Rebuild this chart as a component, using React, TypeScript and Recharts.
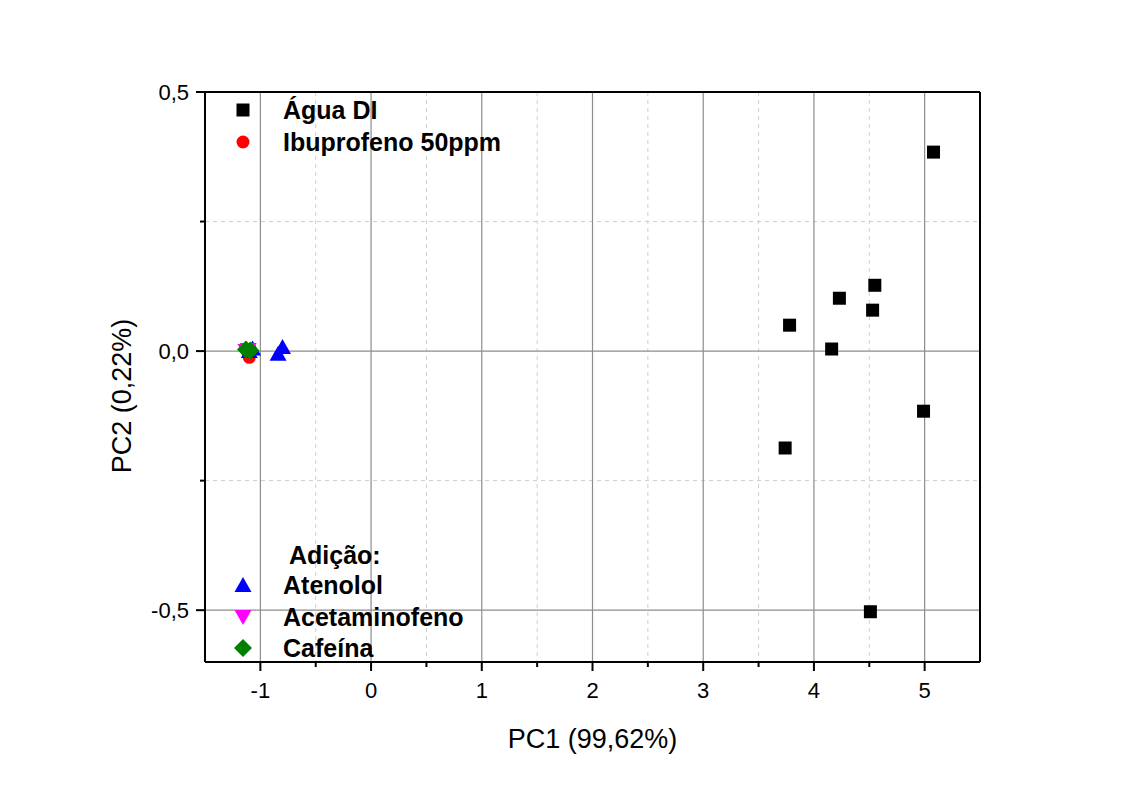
import { ScatterChart, Scatter, XAxis, YAxis, CartesianGrid, ReferenceLine } from 'recharts'

// PCA scores
const aguaDI = [
  { x: 5.08, y: 0.384 },
  { x: 4.55, y: 0.127 },
  { x: 4.23, y: 0.102 },
  { x: 4.53, y: 0.079 },
  { x: 3.78, y: 0.05 },
  { x: 4.16, y: 0.004 },
  { x: 4.99, y: -0.116 },
  { x: 3.74, y: -0.187 },
  { x: 4.51, y: -0.503 },
]
const ibuprofeno = [
  { x: -1.1, y: -0.012 },
  { x: -1.12, y: 0.0 },
]
const atenolol = [
  { x: -1.07, y: 0.005 },
  { x: -1.1, y: 0.0 },
  { x: -0.84, y: -0.005 },
  { x: -0.8, y: 0.008 },
]
const acetaminofeno = [
  { x: -1.11, y: 0.002 },
  { x: -1.13, y: 0.0 },
]
const cafeina = [
  { x: -1.13, y: 0.003 },
  { x: -1.09, y: 0.001 },
]

const xTicks = [-1, -0.5, 0, 0.5, 1, 1.5, 2, 2.5, 3, 3.5, 4, 4.5, 5]
const yTicks = [-0.5, -0.25, 0, 0.25, 0.5]
const xMajorGrid = [-1, 0, 1, 2, 3, 4, 5]
const xMinorGrid = [-0.5, 0.5, 1.5, 2.5, 3.5, 4.5]
const yMajorGrid = [-0.5, 0]
const yMinorGrid = [-0.25, 0.25]

const FONT = '"Liberation Sans", Arial, sans-serif'

const markerPath = (kind: string, cx: number, cy: number) => {
  switch (kind) {
    case 'square':
      return `M${cx - 6.5},${cy - 6.5}h13v13h-13z`
    case 'triangle':
      return `M${cx},${cy - 8}L${cx + 8.5},${cy + 7}L${cx - 8.5},${cy + 7}z`
    case 'down':
      return `M${cx},${cy + 8}L${cx + 8.5},${cy - 7}L${cx - 8.5},${cy - 7}z`
    case 'diamond':
      return `M${cx},${cy - 9}L${cx + 9},${cy}L${cx},${cy + 9}L${cx - 9},${cy}z`
    default:
      return `M${cx - 6.5},${cy}a6.5,6.5 0 1,0 13,0a6.5,6.5 0 1,0 -13,0z`
  }
}

const makeShape = (kind: string, color: string) => (props: any) => (
  <path d={markerPath(kind, props.cx, props.cy)} fill={color} />
)

const XTick = (props: any) => {
  const { x, y, payload } = props
  const major = Number.isInteger(payload.value)
  return (
    <g>
      <line x1={x} x2={x} y1={y} y2={y + (major ? 9 : 5)} stroke="#000" strokeWidth={2} />
      {major && (
        <text x={x} y={y + 36} textAnchor="middle" fontFamily={FONT} fontSize={22} fill="#000">
          {payload.value}
        </text>
      )}
    </g>
  )
}

const YTick = (props: any) => {
  const { x, y, payload } = props
  const major = Math.abs(payload.value * 2 - Math.round(payload.value * 2)) < 1e-9
  return (
    <g>
      <line x1={x} x2={x - (major ? 9 : 5)} y1={y} y2={y} stroke="#000" strokeWidth={2} />
      {major && (
        <text x={x - 16} y={y + 8} textAnchor="end" fontFamily={FONT} fontSize={22} fill="#000">
          {payload.value.toFixed(1).replace('.', ',')}
        </text>
      )}
    </g>
  )
}

const legendTop = [
  { label: 'Água DI', kind: 'square', color: '#000000', y: 102 },
  { label: 'Ibuprofeno 50ppm', kind: 'circle', color: '#ff0000', y: 134 },
]
const legendBottom = [
  { label: 'Atenolol', kind: 'triangle', color: '#0000ff', y: 577 },
  { label: 'Acetaminofeno', kind: 'down', color: '#ff00ff', y: 609 },
  { label: 'Cafeína', kind: 'diamond', color: '#008000', y: 640 },
]

function LegendRow({ label, kind, color, y }: { label: string; kind: string; color: string; y: number }) {
  return (
    <>
      <svg width={22} height={22} style={{ position: 'absolute', left: 224, top: y - 11 }}>
        <path d={markerPath(kind, 11, 11)} fill={color} />
      </svg>
      <div
        style={{
          position: 'absolute',
          left: 275,
          top: y,
          transform: 'translateY(-50%)',
          fontFamily: FONT,
          fontWeight: 'bold',
          fontSize: 25,
          color: '#000',
          whiteSpace: 'nowrap',
        }}
      >
        {label}
      </div>
    </>
  )
}

export default function App() {
  return (
    <div style={{ position: 'relative', width: 1114, height: 773, background: '#fff' }}>
      <ScatterChart width={1114} height={773} margin={{ top: 84, right: 142, bottom: 59, left: 117 }}>
        <CartesianGrid horizontalValues={yMinorGrid} verticalValues={xMinorGrid} stroke="#cfcfcf" strokeDasharray="4 4" />
        <CartesianGrid horizontalValues={yMajorGrid} verticalValues={xMajorGrid} stroke="#8c8c8c" strokeWidth={1.2} />
        <XAxis
          type="number"
          dataKey="x"
          domain={[-1.5, 5.5]}
          ticks={xTicks}
          allowDataOverflow
          height={60}
          tickSize={0}
          tickMargin={0}
          tickLine={false}
          tick={<XTick />}
          axisLine={{ stroke: '#000', strokeWidth: 2 }}
          interval={0}
          label={{
            content: (p: any) => (
              <text
                x={p.viewBox.x + p.viewBox.width / 2}
                y={p.viewBox.y + 86}
                textAnchor="middle"
                fontFamily={FONT}
                fontSize={27}
                fill="#000"
              >
                PC1 (99,62%)
              </text>
            ),
          }}
        />
        <YAxis
          type="number"
          dataKey="y"
          domain={[-0.6, 0.5]}
          ticks={yTicks}
          allowDataOverflow
          width={80}
          tickSize={0}
          tickMargin={0}
          tickLine={false}
          tick={<YTick />}
          axisLine={{ stroke: '#000', strokeWidth: 2 }}
          interval={0}
          label={{
            content: (p: any) => {
              const cx = p.viewBox.x - 3
              const cy = p.viewBox.y + p.viewBox.height / 2 + 19
              return (
                <text
                  x={cx}
                  y={cy}
                  transform={`rotate(-90 ${cx} ${cy})`}
                  textAnchor="middle"
                  dominantBaseline="central"
                  fontFamily={FONT}
                  fontSize={27}
                  fill="#000"
                >
                  PC2 (0,22%)
                </text>
              )
            },
          }}
        />
        <ReferenceLine y={0.5} stroke="#000" strokeWidth={2} />
        <ReferenceLine x={5.5} stroke="#000" strokeWidth={2} />
        <Scatter name="Água DI" data={aguaDI} shape={makeShape('square', '#000000')} isAnimationActive={false} />
        <Scatter name="Ibuprofeno 50ppm" data={ibuprofeno} shape={makeShape('circle', '#ff0000')} isAnimationActive={false} />
        <Scatter name="Atenolol" data={atenolol} shape={makeShape('triangle', '#0000ff')} isAnimationActive={false} />
        <Scatter name="Acetaminofeno" data={acetaminofeno} shape={makeShape('down', '#ff00ff')} isAnimationActive={false} />
        <Scatter name="Cafeína" data={cafeina} shape={makeShape('diamond', '#008000')} isAnimationActive={false} />
      </ScatterChart>
      {legendTop.map((r) => (
        <LegendRow key={r.label} {...r} />
      ))}
      <div
        style={{
          position: 'absolute',
          left: 281,
          top: 547,
          transform: 'translateY(-50%)',
          fontFamily: FONT,
          fontWeight: 'bold',
          fontSize: 25,
          color: '#000',
        }}
      >
        Adição:
      </div>
      {legendBottom.map((r) => (
        <LegendRow key={r.label} {...r} />
      ))}
    </div>
  )
}
